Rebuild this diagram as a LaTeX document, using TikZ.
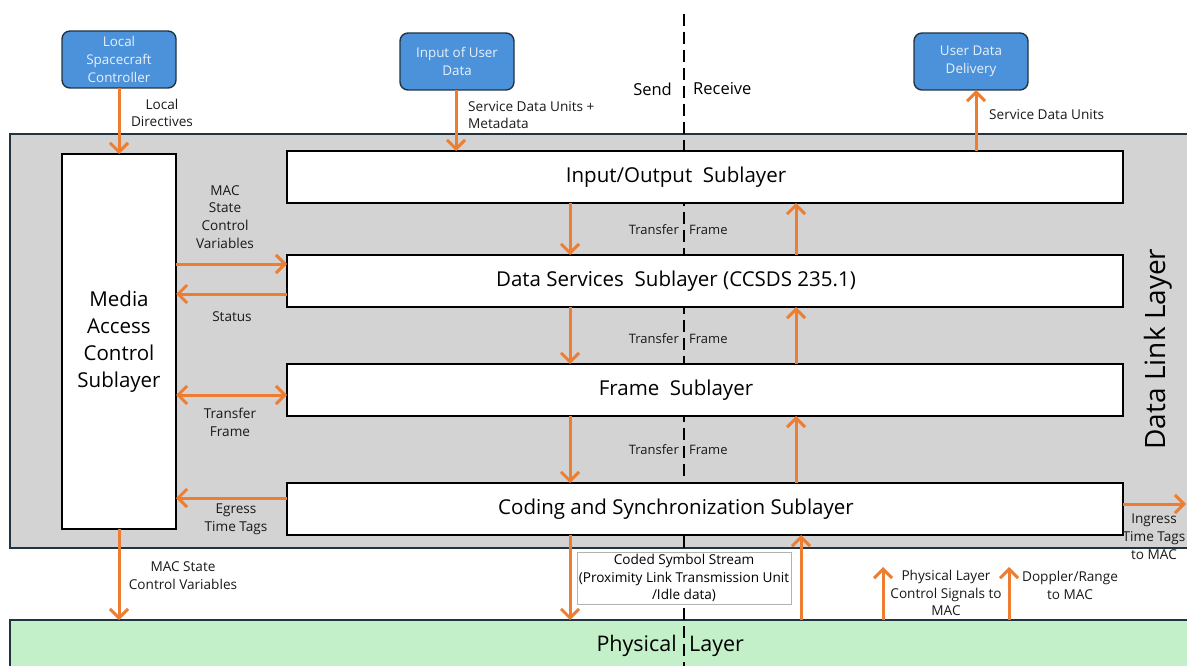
\documentclass[tikz,border=0pt]{standalone}
\usepackage{fontspec}
\setmainfont{Open Sans}
\usetikzlibrary{arrows.meta}
\definecolor{dlgray}{RGB}{211,211,211}
\definecolor{edgecol}{RGB}{32,52,66}
\definecolor{userblue}{RGB}{76,146,218}
\definecolor{usertext}{RGB}{232,240,250}
\definecolor{flow}{RGB}{237,125,49}
\definecolor{physgreen}{RGB}{195,240,200}
\newcommand\lblfont{\fontsize{13.6}{17.8}\selectfont}
\newcommand\tffont{\fontsize{13}{16}\selectfont}
\newcommand\subfont{\fontsize{20.5}{24}\selectfont}
\newcommand\macfont{\fontsize{20.5}{27}\selectfont}
% sublayer titles sit a little left of the box centre
\newcommand\subtitle[1]{#1\hspace*{58pt}}

\begin{document}
\begin{tikzpicture}[x=1pt,y=-1pt,
  layerbox/.style={draw=edgecol, line width=1.6pt, inner sep=0pt, outer sep=0pt, anchor=north west},
  subbox/.style={draw=black, line width=1.3pt, fill=white, inner sep=0pt, outer sep=0pt,
    anchor=north west, minimum width=836pt, minimum height=52pt, font=\subfont},
  userbox/.style={draw=edgecol, line width=1.4pt, fill=userblue, rounded corners=8pt,
    text=usertext, align=center, font=\fontsize{13.4}{18}\selectfont, inner sep=0pt,
    outer sep=0pt, anchor=north west, minimum width=114pt, minimum height=57pt},
  flowarrow/.style={draw=flow, line width=3pt,
    -{Straight Barb[length=9pt,width=18pt,line width=3pt]}},
  flowboth/.style={draw=flow, line width=3pt,
    {Straight Barb[length=9pt,width=18pt,line width=3pt]}-{Straight Barb[length=9pt,width=18pt,line width=3pt]}},
  lbl/.style={font=\lblfont, align=center, text=black!90, inner sep=0pt},
  divider/.style={draw=black, line width=2.6pt, dash pattern=on 12pt off 6pt}]

\useasboundingbox (0,0) rectangle (1187,666);
\clip (0,0) rectangle (1187,666);

% layers in the background
\node[layerbox, fill=dlgray, minimum width=1200pt, minimum height=414pt] (dll) at (10,134) {};
\node[layerbox, fill=physgreen, minimum width=1200pt, minimum height=60pt] (phy) at (10,620) {};

% send / receive divider
\coordinate (divtop) at (684,14);
\coordinate (divbot) at (684,670);
\draw[divider] (divtop) -- (divbot);

% sublayers
\node[subbox] (io) at (287,151) {\subtitle{Input/Output~ Sublayer}};
\node[subbox] (ds) at (287,255) {\subtitle{Data Services~ Sublayer (CCSDS 235.1)}};
\node[subbox] (fr) at (287,364) {\subtitle{Frame~ Sublayer}};
\node[subbox] (cs) at (287,483) {\subtitle{Coding and Synchronization Sublayer}};
\node[draw=black, line width=1.3pt, fill=white, inner sep=0pt, outer sep=0pt, anchor=north west,
  minimum width=114pt, minimum height=375pt, align=center, font=\macfont] (mac) at (62,154)
  {Media\\Access\\Control\\Sublayer};

\node[rotate=90, font=\fontsize{28}{32}\selectfont] (dlltitle) at (1158,349) {Data Link Layer};

% external entities
\node[userbox] (lsc) at (62,31) {Local\\Spacecraft\\Controller};
\node[userbox] (iud) at (400,33) {Input of User\\Data};
\node[userbox] (udd) at (914,33) {User Data\\Delivery};

% send / receive headings
\node[font=\fontsize{16.5}{18}\selectfont, anchor=east, inner sep=0pt] (send) at (672,89) {Send};
\node[font=\fontsize{16.5}{18}\selectfont, anchor=west, inner sep=0pt] (recv) at (693,89) {Receive};

% inputs from above
\draw[flowarrow] (lsc.south -| mac.north) -- (mac.north);
\node[lbl] (lbllocal) at (162,113) {Local\\Directives};
\draw[flowarrow] (iud.south -| 456,0) -- (io.north -| 456,0);
\node[lbl, anchor=west, align=left] (lblsdu) at (468,115) {Service Data Units +\\Metadata};
\draw[flowarrow] (io.north -| 976,0) -- (udd.south -| 976,0);
\node[lbl, anchor=west] (lblsduout) at (989,115) {Service Data Units};

% MAC interfaces
\draw[flowarrow] (mac.east |- 0,264) -- (ds.west |- 0,264);
\node[lbl] (lblmacvar) at (225,217) {MAC\\State\\Control\\Variables};
\draw[flowarrow] (ds.west |- 0,294) -- (mac.east |- 0,294);
\node[lbl] (lblstatus) at (232,317) {Status};
\draw[flowboth] (mac.east |- 0,395) -- (fr.west |- 0,395);
\node[lbl] (lbltf) at (230,422) {Transfer\\Frame};
\draw[flowarrow] (cs.west |- 0,498) -- (mac.east |- 0,498);
\node[lbl] (lblegress) at (236,519) {Egress\\Time Tags};

% transfer frames between sublayers
\draw[flowarrow] (io.south -| 570,0) -- (ds.north -| 570,0);
\draw[flowarrow] (ds.south -| 570,0) -- (fr.north -| 570,0);
\draw[flowarrow] (fr.south -| 570,0) -- (cs.north -| 570,0);
\draw[flowarrow] (ds.north -| 796,0) -- (io.south -| 796,0);
\draw[flowarrow] (fr.north -| 796,0) -- (ds.south -| 796,0);
\draw[flowarrow] (cs.north -| 796,0) -- (fr.south -| 796,0);
\foreach \y/\n in {230/a,339/b,450/c} {
  \node[lbl, font=\tffont, anchor=east] (tfl\n) at (679,\y) {Transfer};
  \node[lbl, font=\tffont, anchor=west] (tfr\n) at (689,\y) {Frame};
}

% ingress time tags
\coordinate (ingress) at (1186,504);
\draw[flowarrow] (cs.east |- ingress) -- (ingress);
\node[lbl] (lblingress) at (1154,537) {Ingress\\Time Tags\\to MAC};

% physical layer interfaces
\draw[flowarrow] (mac.south) -- (mac.south |- phy.north);
\node[lbl] (lblmacphy) at (183,576) {MAC State\\Control Variables};
\draw[flowarrow] (cs.south -| 570,0) -- (phy.north -| 570,0);
\node[draw=black!30, line width=0.8pt, fill=white, font=\lblfont, align=center, inner sep=0pt,
  minimum width=214pt, minimum height=52pt] (coded) at (684,578)
  {Coded Symbol Stream\\(Proximity Link Transmission Unit\\/Idle data)};
\draw[flowarrow] (phy.north -| 801,0) -- (cs.south -| 801,0);
\coordinate (plctop) at (883,567);
\draw[flowarrow] (phy.north -| plctop) -- (plctop);
\node[lbl] (lblplc) at (946,593) {Physical Layer\\Control Signals to\\MAC};
\coordinate (dopptop) at (1009,567);
\draw[flowarrow] (phy.north -| dopptop) -- (dopptop);
\node[lbl] (lbldopp) at (1070,585) {Doppler/Range\\to MAC};

% physical layer title
\node[font=\fontsize{21.5}{24}\selectfont, anchor=east, inner sep=0pt] (physa) at (677,646) {Physical};
\node[font=\fontsize{21.5}{24}\selectfont, anchor=west, inner sep=0pt] (physb) at (689,646) {Layer};
\end{tikzpicture}
\end{document}
